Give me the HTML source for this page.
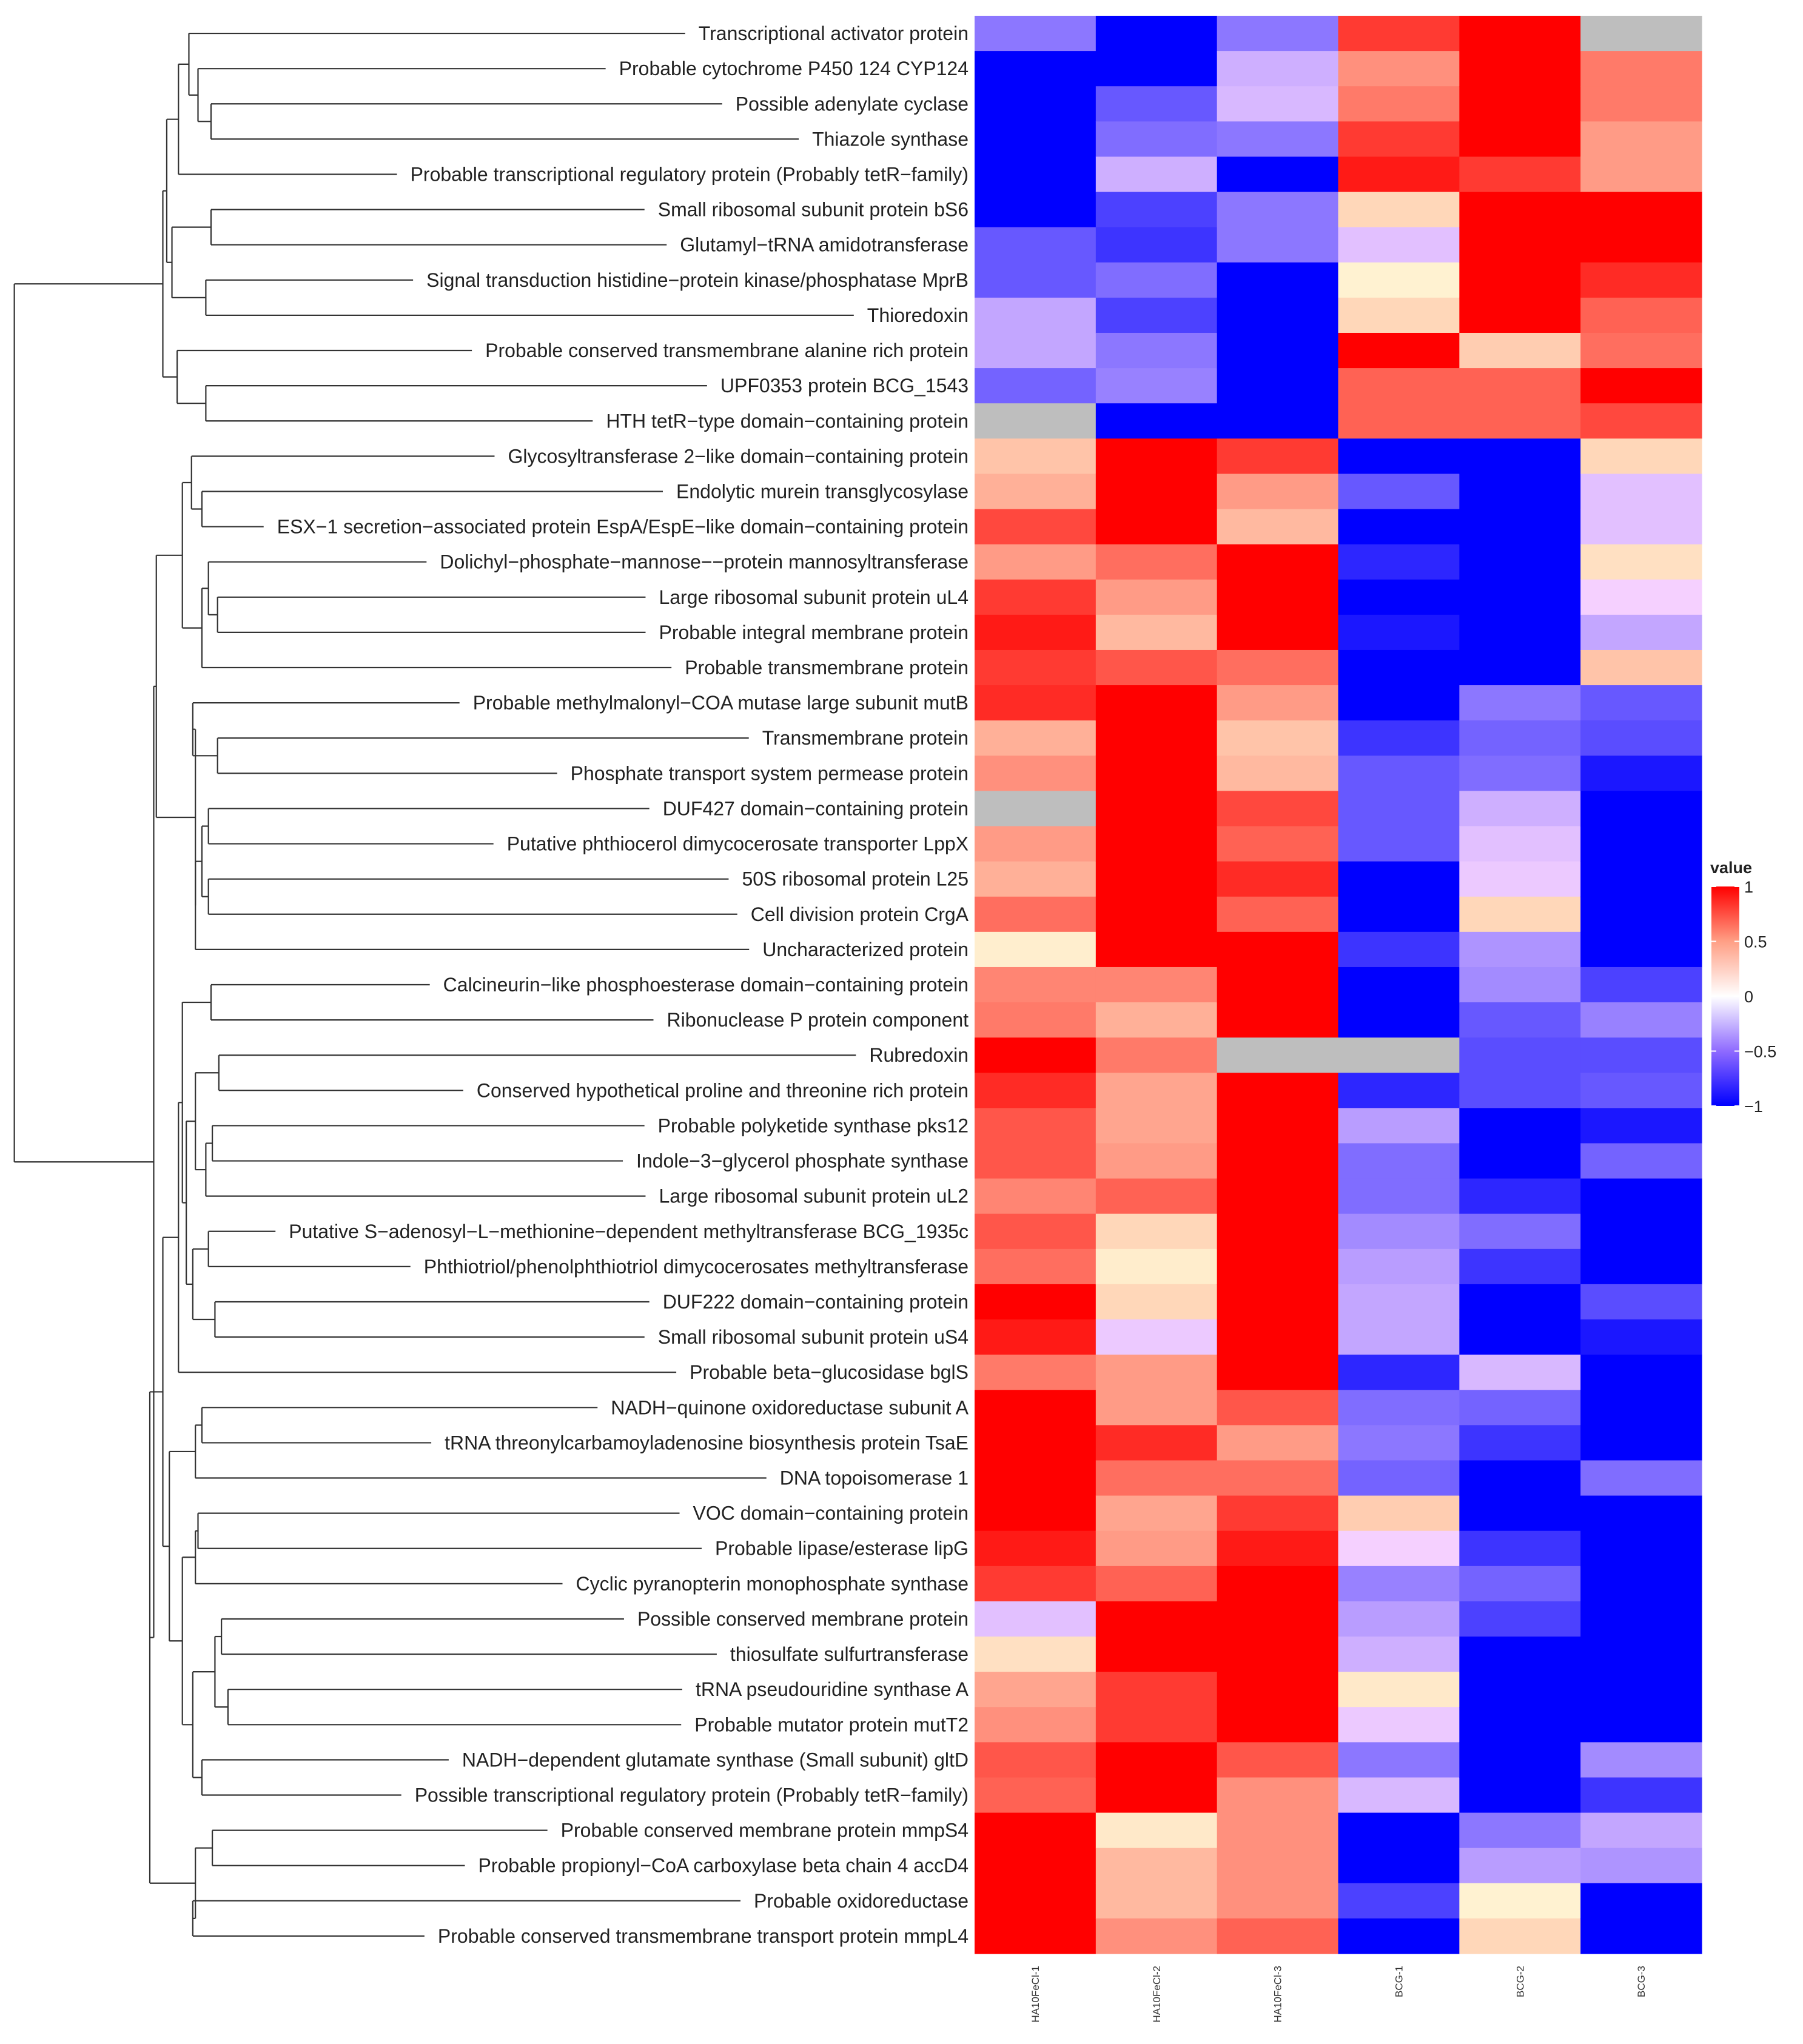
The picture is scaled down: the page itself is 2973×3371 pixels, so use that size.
<!DOCTYPE html>
<html><head><meta charset="utf-8"><style>
html,body{margin:0;padding:0;background:#fff;}
svg{display:block;font-family:"Liberation Sans",Arial,sans-serif;}
</style></head><body>
<svg id="chart" width="2973" height="3371" viewBox="0 0 2973 3371" xmlns="http://www.w3.org/2000/svg">
<defs><linearGradient id="lg" x1="0" y1="1" x2="0" y2="0">
<stop offset="0" stop-color="#0000ff"/><stop offset="0.25" stop-color="#8f6bff"/><stop offset="0.5" stop-color="#ffffff"/><stop offset="0.75" stop-color="#ff9f85"/><stop offset="1" stop-color="#ff0000"/></linearGradient></defs>
<g id="cells"></g>
<g id="rowlabels"></g>
<g id="collabels"></g>
<g id="tree" stroke="#333" stroke-width="2.2" fill="none"></g>
<g>
<text x="2820" y="1440" font-size="27" font-weight="bold" fill="#222">value</text>
<rect x="2822" y="1462" width="46" height="362" fill="url(#lg)"/>
<g id="legticks"></g>
</g>
</svg>
<script>
const rowLabels = ["Transcriptional activator protein","Probable cytochrome P450 124 CYP124","Possible adenylate cyclase","Thiazole synthase","Probable transcriptional regulatory protein (Probably tetR−family)","Small ribosomal subunit protein bS6","Glutamyl−tRNA amidotransferase","Signal transduction histidine−protein kinase/phosphatase MprB","Thioredoxin","Probable conserved transmembrane alanine rich protein","UPF0353 protein BCG_1543","HTH tetR−type domain−containing protein","Glycosyltransferase 2−like domain−containing protein","Endolytic murein transglycosylase","ESX−1 secretion−associated protein EspA/EspE−like domain−containing protein","Dolichyl−phosphate−mannose−−protein mannosyltransferase","Large ribosomal subunit protein uL4","Probable integral membrane protein","Probable transmembrane protein","Probable methylmalonyl−COA mutase large subunit mutB","Transmembrane protein","Phosphate transport system permease protein","DUF427 domain−containing protein","Putative phthiocerol dimycocerosate transporter LppX","50S ribosomal protein L25","Cell division protein CrgA","Uncharacterized protein","Calcineurin−like phosphoesterase domain−containing protein","Ribonuclease P protein component","Rubredoxin","Conserved hypothetical proline and threonine rich protein","Probable polyketide synthase pks12","Indole−3−glycerol phosphate synthase","Large ribosomal subunit protein uL2","Putative S−adenosyl−L−methionine−dependent methyltransferase BCG_1935c","Phthiotriol/phenolphthiotriol dimycocerosates methyltransferase","DUF222 domain−containing protein","Small ribosomal subunit protein uS4","Probable beta−glucosidase bglS","NADH−quinone oxidoreductase subunit A","tRNA threonylcarbamoyladenosine biosynthesis protein TsaE","DNA topoisomerase 1","VOC domain−containing protein","Probable lipase/esterase lipG","Cyclic pyranopterin monophosphate synthase","Possible conserved membrane protein","thiosulfate sulfurtransferase","tRNA pseudouridine synthase A","Probable mutator protein mutT2","NADH−dependent glutamate synthase (Small subunit) gltD","Possible transcriptional regulatory protein (Probably tetR−family)","Probable conserved membrane protein mmpS4","Probable propionyl−CoA carboxylase beta chain 4 accD4","Probable oxidoreductase","Probable conserved transmembrane transport protein mmpL4"];
const colLabels = ["HA10FeCl-1","HA10FeCl-2","HA10FeCl-3","BCG-1","BCG-2","BCG-3"];
const colHA1 = [-0.55,-1,-1,-1,-1,-1,-0.7,-0.7,-0.3,-0.3,-0.65,null,0.25,0.35,0.8,0.45,0.85,0.95,0.85,0.9,0.35,0.5,null,0.45,0.35,0.65,0.02,0.55,0.6,1,0.9,0.75,0.75,0.55,0.75,0.65,1,0.95,0.6,1,1,1,1,0.95,0.85,-0.15,0.1,0.4,0.5,0.75,0.7,1,1,1,1];
const colHA2 = [-1,-1,-0.7,-0.6,-0.25,-0.8,-0.85,-0.6,-0.8,-0.55,-0.5,-1,1,1,1,0.65,0.45,0.3,0.75,1,1,1,1,1,1,1,1,0.55,0.35,0.6,0.4,0.4,0.45,0.7,0.15,0.03,0.15,-0.1,0.45,0.45,0.9,0.65,0.4,0.45,0.7,1,1,0.85,0.85,1,1,0.05,0.3,0.3,0.5];
const colHA3 = [-0.55,-0.25,-0.2,-0.55,-1,-0.55,-0.55,-1,-1,-1,-1,-1,0.85,0.45,0.3,1,1,1,0.65,0.45,0.25,0.3,0.8,0.7,0.9,0.7,1,1,1,null,1,1,1,1,1,1,1,1,1,0.75,0.45,0.65,0.85,0.95,1,1,1,1,1,0.75,0.5,0.5,0.5,0.5,0.7];
const colB1 = [0.85,0.5,0.6,0.85,0.95,0.15,-0.15,0,0.15,1,0.7,0.7,-1,-0.7,-1,-0.9,-1,-0.95,-1,-1,-0.85,-0.7,-0.7,-0.7,-1,-1,-0.85,-1,-1,null,-0.9,-0.35,-0.6,-0.6,-0.45,-0.35,-0.3,-0.3,-0.9,-0.6,-0.55,-0.65,0.2,-0.05,-0.5,-0.35,-0.25,0.05,-0.1,-0.55,-0.2,-1,-1,-0.8,-1];
const colB2 = [1,1,1,1,0.85,1,1,1,1,0.2,0.7,0.7,-1,-1,-1,-1,-1,-1,-1,-0.55,-0.65,-0.6,-0.25,-0.15,-0.1,0.15,-0.4,-0.45,-0.7,-0.75,-0.75,-1,-1,-0.9,-0.6,-0.85,-1,-1,-0.2,-0.65,-0.85,-1,-1,-0.85,-0.65,-0.8,-1,-1,-1,-1,-1,-0.55,-0.35,0,0.15];
const colB3 = [null,0.6,0.6,0.45,0.45,1,1,0.9,0.7,0.65,1,0.8,0.15,-0.15,-0.15,0.1,-0.05,-0.3,0.25,-0.7,-0.75,-0.95,-1,-1,-1,-1,-1,-0.8,-0.5,-0.75,-0.7,-0.95,-0.65,-1,-1,-1,-0.75,-0.95,-1,-1,-1,-0.6,-1,-1,-1,-1,-1,-1,-1,-0.45,-0.85,-0.3,-0.4,-1,-1];
const legendTicks = [1,0.5,0,-0.5,-1];

const NS="http://www.w3.org/2000/svg";
const X0=1607,X1=2806,Y0=26,Y1=3222;
const cols=[colHA1,colHA2,colHA3,colB1,colB2,colB3];
const nR=rowLabels.length,nC=colLabels.length;
const cw=(X1-X0)/nC,rh=(Y1-Y0)/nR;
const xS=c=>X0+c*cw, yS=r=>Y0+r*rh;
function color(v){
  if(v===null) return "#bebebe";
  const a=Math.min(1,Math.abs(v)), k=Math.round(255*Math.pow(1-a,0.75));
  return v>=0?`rgb(255,${Math.round(k*0.95)},${Math.round(k*0.82)})`:`rgb(${k},${Math.round(k*0.85)},255)`;
}
function mk(t,attrs,parent){const e=document.createElementNS(NS,t);for(const k in attrs)e.setAttribute(k,attrs[k]);parent.appendChild(e);return e;}
const cells=document.getElementById('cells');
for(let c=0;c<nC;c++)for(let r=0;r<nR;r++){
  const e=mk('rect',{x:xS(c),y:yS(r),width:cw+0.6,height:rh+0.6,fill:color(cols[c][r])},cells);
  
  
}
const rl=document.getElementById('rowlabels');
const leafEnd=[];
for(let r=0;r<nR;r++){
  const t=mk('text',{x:X0-10,y:yS(r)+rh/2+11,'text-anchor':'end','font-size':32,fill:'#222'},rl);
  t.textContent=rowLabels[r];
  
  
  leafEnd.push(X0-10-t.getComputedTextLength()-22);
}
const cl=document.getElementById('collabels');
for(let c=0;c<nC;c++){
  const cx=xS(c)+cw/2+6,cy=3242;
  const t=mk('text',{x:cx,y:cy,'text-anchor':'end','font-size':17,fill:'#333',transform:`rotate(-90 ${cx} ${cy})`},cl);
  t.textContent=colLabels[c];
  
  
}
const G1=[140,[147,12,[155,13,14]],[155,[160,15,[167,16,17]],18]];
const G2=[150,[148,19,[167,20,21]],[150,[155,[160,22,23],[160,24,25]],26]];
const G3=[137,[140,[162,27,28],[143,[150,[168,29,30],[158,[163,31,32],33]],[148,[160,34,35],[165,36,37]]]],38];
const G4=[130,[150,[155,39,40],41],[140,[150,[152,42,43],44],[148,[165,[170,45,46],[175,47,48]],[155,49,50]]]];
const G5=[150,[163,51,52],[148,53,54]];
const TOP=[125,[128,[137,[145,0,[152,1,[162,2,3]]],4],[132,[162,5,6],[158,7,8]]],[136,9,[158,10,11]]];
const BOT=[118,[120,G1,G2],[115,[125,G3,G4],G5]];
const ROOT=[11,TOP,BOT];
const SC=2.148;
const tree=document.getElementById('tree');
function draw(n){
  if(typeof n==='number') return {x:leafEnd[n],y:yS(n)+rh/2};
  const a=draw(n[1]),b=draw(n[2]),x=n[0]*SC;
  for(const ch of [a,b]){
    const l=mk('line',{x1:x,y1:ch.y,x2:ch.x,y2:ch.y},tree);
    
    
  }
  const v=mk('line',{x1:x,y1:a.y,x2:x,y2:b.y},tree);
  
  
  return {x:x,y:(a.y+b.y)/2};
}
draw(ROOT);
const lt=document.getElementById('legticks');
const LY=v=>1462+(1-v)/2*362;
for(const v of legendTicks){
  const y=LY(v);
  mk('line',{x1:2822,y1:y,x2:2830,y2:y,stroke:'#fff','stroke-width':2},lt);
  mk('line',{x1:2860,y1:y,x2:2868,y2:y,stroke:'#fff','stroke-width':2},lt);
  const t=mk('text',{x:2876,y:y+10,'font-size':27,fill:'#222'},lt);
  t.textContent=(v<0?'−':'')+Math.abs(v);
  
  
}
</script>
</body></html>
